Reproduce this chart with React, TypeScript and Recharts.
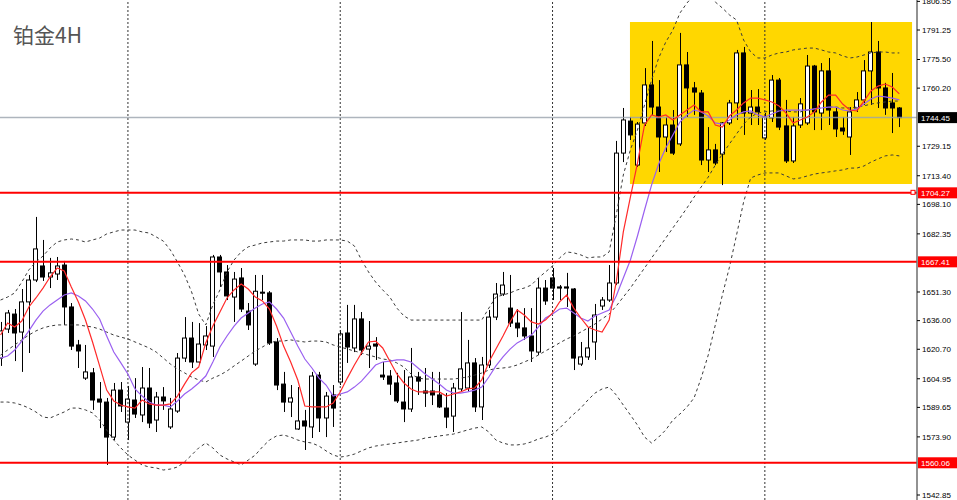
import React from 'react';
import { ComposedChart, Bar, Line, XAxis, YAxis, ReferenceLine, ReferenceArea } from 'recharts';

// ---- candle data (4H bars, oldest first) ----
const opens = [
  1616.0, 1631.5, 1639.5, 1629.9, 1646.0, 1657.7, 1665.2, 1659.3, 1660.9, 1665.7,
  1643.3, 1623.0, 1605.3, 1608.1, 1594.1, 1592.5, 1573.8, 1598.9, 1581.8, 1593.6,
  1585.6, 1600.0, 1582.9, 1595.2, 1579.2, 1587.7, 1616.0, 1626.7, 1613.9, 1623.0,
  1622.4, 1670.0, 1662.0, 1648.6, 1658.8, 1641.1, 1612.8, 1651.2, 1650.8, 1624.6,
  1602.1, 1592.5, 1578.1, 1582.4, 1579.2, 1606.9, 1584.0, 1596.3, 1603.2, 1629.4,
  1621.4, 1636.9, 1620.8, 1623.5, 1606.9, 1606.4, 1602.7, 1592.5, 1588.8, 1605.9,
  1598.4, 1598.4, 1596.3, 1589.3, 1585.0, 1599.5, 1600.0, 1613.4, 1589.9, 1612.3,
  1637.9, 1650.2, 1642.7, 1634.7, 1632.1, 1627.8, 1619.2, 1653.4, 1658.8, 1654.0,
  1654.0, 1652.9, 1612.8, 1616.6, 1624.6, 1643.8, 1647.0, 1656.1, 1725.5, 1742.6,
  1719.1, 1741.6, 1761.9, 1750.1, 1734.1, 1740.5, 1730.4, 1772.6, 1760.3, 1757.6,
  1721.8, 1727.2, 1725.0, 1741.6, 1752.3, 1779.0, 1746.9, 1750.1, 1733.6, 1744.3,
  1764.5, 1740.0, 1721.3, 1740.5, 1741.6, 1772.0, 1746.9, 1769.4, 1747.5, 1738.9,
  1734.1, 1749.6, 1753.9, 1769.4, 1779.5, 1760.3, 1752.3, 1749.6,
];
const highs = [
  1635.3, 1641.7, 1642.2, 1652.9, 1660.4, 1691.4, 1679.1, 1669.5, 1670.0, 1667.9,
  1645.4, 1625.7, 1623.0, 1610.7, 1603.2, 1594.7, 1602.7, 1603.2, 1601.1, 1605.3,
  1611.2, 1610.7, 1597.9, 1600.5, 1594.7, 1618.7, 1637.9, 1635.3, 1634.7, 1633.1,
  1671.1, 1671.1, 1665.7, 1662.0, 1664.1, 1645.4, 1660.4, 1660.4, 1651.8, 1626.7,
  1608.6, 1601.6, 1600.5, 1588.3, 1608.6, 1608.6, 1597.9, 1601.6, 1631.0, 1644.4,
  1644.4, 1640.6, 1635.8, 1627.2, 1613.9, 1609.6, 1608.1, 1609.6, 1621.4, 1608.6,
  1610.7, 1608.6, 1608.6, 1597.3, 1602.7, 1640.6, 1625.7, 1616.0, 1616.6, 1641.7,
  1656.1, 1662.0, 1660.4, 1642.2, 1642.7, 1642.7, 1658.8, 1657.7, 1664.1, 1655.0,
  1661.5, 1653.4, 1624.6, 1632.1, 1644.9, 1648.6, 1665.7, 1732.0, 1749.6, 1744.8,
  1742.1, 1770.9, 1785.4, 1764.5, 1744.8, 1748.5, 1789.7, 1779.5, 1763.5, 1759.2,
  1739.4, 1730.4, 1742.1, 1753.9, 1780.6, 1782.2, 1759.2, 1759.7, 1746.9, 1767.2,
  1765.6, 1753.9, 1744.8, 1754.9, 1777.9, 1772.6, 1773.6, 1776.3, 1750.1, 1744.8,
  1750.1, 1758.1, 1775.2, 1795.5, 1785.4, 1763.0, 1768.3, 1750.1,
];
const lows = [
  1611.8, 1629.4, 1614.4, 1608.6, 1618.7, 1656.6, 1657.2, 1653.4, 1657.7, 1633.7,
  1620.3, 1610.7, 1604.3, 1588.3, 1578.6, 1558.9, 1572.2, 1587.2, 1572.2, 1584.0,
  1581.8, 1578.6, 1576.5, 1588.3, 1578.1, 1586.7, 1613.9, 1610.7, 1612.3, 1620.3,
  1616.6, 1654.0, 1647.0, 1635.3, 1640.6, 1631.0, 1611.8, 1647.0, 1623.0, 1598.9,
  1587.2, 1584.5, 1577.6, 1566.9, 1573.3, 1576.5, 1573.8, 1579.2, 1601.6, 1613.4,
  1619.2, 1617.6, 1610.7, 1615.0, 1604.3, 1596.3, 1592.0, 1581.8, 1587.2, 1596.3,
  1589.9, 1590.9, 1589.3, 1578.6, 1576.5, 1597.9, 1597.9, 1587.2, 1582.9, 1610.7,
  1636.3, 1649.2, 1632.6, 1627.2, 1625.7, 1613.9, 1617.6, 1644.4, 1647.0, 1647.0,
  1643.3, 1609.6, 1611.8, 1615.0, 1615.0, 1641.7, 1646.0, 1655.0, 1720.7, 1732.5,
  1718.1, 1740.0, 1745.9, 1715.4, 1726.1, 1724.5, 1729.3, 1744.8, 1745.9, 1719.1,
  1715.4, 1719.1, 1708.4, 1740.5, 1743.2, 1735.2, 1740.5, 1740.5, 1732.5, 1742.1,
  1737.8, 1720.2, 1720.2, 1738.9, 1740.5, 1737.8, 1737.8, 1740.5, 1734.1, 1735.2,
  1724.5, 1747.5, 1751.2, 1751.2, 1749.6, 1745.9, 1736.2, 1739.4,
];
const closes = [
  1630.5, 1640.1, 1629.4, 1646.0, 1657.7, 1674.3, 1659.3, 1661.5, 1665.2, 1643.3,
  1622.4, 1619.8, 1608.6, 1593.6, 1592.5, 1573.8, 1598.9, 1590.4, 1594.1, 1586.1,
  1600.0, 1581.3, 1595.2, 1593.1, 1588.8, 1616.0, 1626.7, 1613.9, 1623.5, 1627.8,
  1670.0, 1662.0, 1649.2, 1658.2, 1642.2, 1633.7, 1651.7, 1650.8, 1624.1, 1601.6,
  1592.5, 1594.7, 1582.4, 1579.7, 1606.4, 1584.0, 1595.7, 1589.3, 1628.9, 1621.9,
  1636.9, 1620.3, 1622.4, 1622.4, 1605.9, 1602.1, 1593.1, 1588.8, 1605.9, 1603.7,
  1597.3, 1596.3, 1589.9, 1584.5, 1600.0, 1610.2, 1613.4, 1589.9, 1612.3, 1637.9,
  1650.2, 1655.0, 1634.7, 1632.1, 1627.8, 1619.8, 1653.4, 1646.5, 1653.4, 1653.4,
  1653.4, 1616.0, 1616.6, 1621.4, 1639.0, 1647.0, 1656.1, 1725.5, 1743.2, 1735.2,
  1741.0, 1761.9, 1750.1, 1734.1, 1740.5, 1725.5, 1772.6, 1760.3, 1758.1, 1721.8,
  1727.2, 1720.2, 1741.6, 1752.3, 1779.0, 1746.9, 1750.1, 1747.5, 1744.8, 1764.5,
  1739.4, 1721.3, 1740.0, 1751.8, 1772.0, 1747.5, 1769.4, 1748.5, 1738.4, 1737.3,
  1747.5, 1753.9, 1769.4, 1779.5, 1760.3, 1749.6, 1749.6, 1744.45,
];

// ---- indicator lines ----
const maFast = [
  1628.3, 1634.7, 1632.6, 1635.8, 1643.3, 1648.1, 1653.4, 1659.3, 1664.1, 1662.5,
  1654.0, 1646.0, 1636.3, 1624.6, 1611.8, 1598.9, 1593.1, 1590.9, 1589.9, 1589.3,
  1593.6, 1591.5, 1590.9, 1590.9, 1591.5, 1595.7, 1602.1, 1608.1, 1611.2, 1624.1,
  1633.1, 1640.6, 1648.1, 1652.4, 1655.6, 1652.9, 1648.6, 1646.5, 1642.2, 1633.1,
  1622.4, 1613.9, 1604.3, 1590.4, 1589.9, 1589.9, 1589.9, 1592.0, 1597.9, 1605.3,
  1612.3, 1618.7, 1624.6, 1625.1, 1621.4, 1614.4, 1607.5, 1602.7, 1599.5, 1597.9,
  1597.9, 1597.9, 1597.9, 1595.7, 1596.8, 1597.9, 1599.5, 1600.0, 1604.3, 1613.9,
  1620.8, 1627.8, 1635.3, 1641.7, 1639.0, 1635.3, 1634.2, 1636.3, 1640.1, 1646.0,
  1649.7, 1642.7, 1637.4, 1632.6, 1631.0, 1629.9, 1636.3, 1656.6, 1683.4, 1702.0,
  1720.2, 1740.5, 1745.9, 1744.8, 1745.9, 1743.2, 1745.9, 1748.5, 1751.2, 1747.5,
  1747.5, 1740.5, 1739.4, 1745.3, 1748.5, 1752.3, 1754.9, 1754.9, 1753.9, 1752.8,
  1750.7, 1746.9, 1741.6, 1743.2, 1744.8, 1747.5, 1752.8, 1756.5, 1756.5, 1751.7,
  1748.5, 1748.0, 1753.3, 1758.7, 1761.3, 1762.4, 1760.8, 1757.1,
];
const maSlow = [
  1616.0, 1617.1, 1620.3, 1625.1, 1630.5, 1636.3, 1641.1, 1644.4, 1647.0, 1649.7,
  1650.8, 1649.2, 1646.5, 1642.2, 1636.9, 1627.8, 1619.2, 1613.4, 1607.5, 1599.5,
  1595.7, 1592.5, 1590.9, 1590.9, 1589.9, 1593.1, 1596.8, 1599.5, 1602.7, 1606.4,
  1613.9, 1621.9, 1627.8, 1633.1, 1637.4, 1640.1, 1642.7, 1644.9, 1646.0, 1642.2,
  1637.4, 1629.9, 1622.4, 1615.5, 1610.7, 1605.3, 1601.6, 1595.7, 1596.8, 1597.9,
  1600.5, 1603.7, 1608.0, 1612.3, 1613.9, 1614.4, 1615.0, 1615.0, 1613.9, 1610.7,
  1607.5, 1604.8, 1602.1, 1598.9, 1597.3, 1597.3, 1597.9, 1598.9, 1600.5, 1605.9,
  1611.8, 1616.6, 1620.8, 1624.1, 1626.2, 1628.3, 1632.6, 1637.4, 1639.5, 1642.2,
  1642.7, 1640.1, 1637.4, 1635.8, 1638.5, 1640.1, 1641.7, 1649.2, 1658.8, 1668.4,
  1681.2, 1695.1, 1708.5, 1719.7, 1728.2, 1735.2, 1742.1, 1745.9, 1748.5, 1747.5,
  1745.3, 1741.6, 1741.0, 1743.2, 1745.9, 1747.5, 1748.0, 1745.9, 1744.8, 1746.4,
  1748.0, 1748.5, 1748.5, 1748.5, 1748.5, 1749.1, 1749.6, 1750.1, 1750.1, 1748.5,
  1748.0, 1749.1, 1751.7, 1754.4, 1756.0, 1755.5, 1754.9, 1753.9,
];
const bbUpper = [
  1647.0, 1648.6, 1650.8, 1656.6, 1663.1, 1667.3, 1670.5, 1674.8, 1678.0, 1679.1,
  1679.6, 1679.1, 1678.0, 1679.1, 1680.1, 1682.3, 1683.4, 1684.4, 1684.4, 1684.4,
  1683.4, 1682.8, 1680.7, 1678.5, 1673.7, 1667.3, 1660.4, 1651.3, 1639.5, 1633.7,
  1644.4, 1652.4, 1662.0, 1668.4, 1672.7, 1675.4, 1676.4, 1677.5, 1678.0, 1678.5,
  1678.5, 1679.1, 1679.1, 1679.1, 1678.5, 1678.5, 1679.1, 1679.1, 1679.1, 1678.5,
  1675.9, 1668.4, 1662.0, 1656.6, 1652.4, 1648.6, 1642.7, 1638.5, 1636.3, 1636.3,
  1636.3, 1636.3, 1636.3, 1636.3, 1636.3, 1636.3, 1636.3, 1636.3, 1636.3, 1642.7,
  1648.6, 1649.7, 1650.8, 1652.4, 1653.4, 1655.0, 1658.8, 1662.0, 1665.2, 1669.5,
  1672.7, 1672.2, 1671.1, 1669.5, 1670.0, 1670.0, 1672.7, 1692.4, 1713.8, 1727.2,
  1737.8, 1751.2, 1764.5, 1776.3, 1784.8, 1791.2, 1800.3, 1805.7, 1810.0, 1811.6,
  1810.0, 1806.2, 1803.0, 1799.3, 1796.6, 1785.9, 1779.5, 1776.3, 1776.3, 1777.9,
  1779.0, 1779.5, 1780.6, 1781.1, 1781.6, 1781.6, 1780.6, 1779.5, 1779.0, 1777.4,
  1776.3, 1776.8, 1777.9, 1779.0, 1779.5, 1779.5, 1779.0, 1779.0,
];
const bbMiddle = [
  1617.6, 1620.3, 1623.0, 1625.7, 1628.3, 1630.5, 1632.1, 1633.1, 1633.7, 1633.7,
  1633.7, 1633.7, 1633.1, 1632.6, 1631.5, 1629.9, 1628.3, 1627.2, 1626.2, 1624.6,
  1623.0, 1621.4, 1619.2, 1616.0, 1612.8, 1610.2, 1608.1, 1605.9, 1604.3, 1603.2,
  1605.3, 1606.9, 1609.1, 1611.8, 1614.4, 1617.1, 1619.8, 1621.9, 1624.1, 1625.1,
  1625.1, 1625.7, 1625.1, 1624.6, 1625.1, 1625.1, 1624.6, 1623.0, 1621.9, 1620.8,
  1619.8, 1618.7, 1617.6, 1616.6, 1615.5, 1615.0, 1613.4, 1611.2, 1607.5, 1605.3,
  1604.8, 1604.8, 1604.8, 1604.8, 1604.8, 1605.3, 1605.9, 1606.9, 1608.0, 1609.6,
  1610.4, 1610.7, 1611.2, 1612.3, 1613.9, 1615.5, 1617.6, 1619.8, 1621.9, 1624.1,
  1626.2, 1627.8, 1629.9, 1632.1, 1634.2, 1636.9, 1639.5, 1643.8, 1648.6, 1653.4,
  1658.8, 1664.1, 1669.5, 1674.8, 1680.1, 1685.5, 1690.8, 1696.2, 1702.0, 1707.4,
  1712.7, 1719.1, 1725.0, 1730.4, 1735.7, 1741.0, 1744.8, 1746.9, 1747.5, 1748.0,
  1748.5, 1748.0, 1747.5, 1747.5, 1748.5, 1749.1, 1749.6, 1750.1, 1750.1, 1749.6,
  1749.6, 1750.1, 1750.7, 1751.7, 1752.3, 1752.8, 1753.3, 1753.3,
];
const bbLower = [
  1592.5, 1592.5, 1592.0, 1590.9, 1589.3, 1587.2, 1584.5, 1584.0, 1585.6, 1587.2,
  1589.3, 1589.3, 1588.3, 1586.7, 1582.9, 1577.6, 1572.2, 1568.0, 1564.2, 1561.5,
  1558.9, 1557.8, 1557.3, 1556.2, 1556.7, 1557.8, 1560.5, 1564.2, 1568.0, 1570.6,
  1568.0, 1564.2, 1562.1, 1560.5, 1558.9, 1561.5, 1564.2, 1568.5, 1572.2, 1574.4,
  1574.9, 1573.8, 1572.2, 1571.2, 1570.6, 1569.0, 1566.4, 1564.2, 1563.1, 1563.7,
  1564.7, 1566.4, 1568.0, 1569.0, 1569.6, 1570.1, 1570.6, 1571.2, 1571.7, 1572.2,
  1573.3, 1573.8, 1574.4, 1574.9, 1575.4, 1576.5, 1577.6, 1578.6, 1579.2, 1576.5,
  1572.2, 1570.6, 1569.6, 1569.6, 1570.1, 1571.2, 1572.8, 1573.8, 1575.4, 1578.6,
  1582.4, 1586.1, 1589.3, 1593.6, 1597.3, 1599.5, 1600.5, 1596.3, 1590.9, 1585.6,
  1580.2, 1573.8, 1570.6, 1573.8, 1577.6, 1582.9, 1586.1, 1589.9, 1594.7, 1605.3,
  1617.6, 1633.7, 1649.7, 1664.6, 1681.7, 1699.4, 1712.2, 1713.8, 1714.9, 1714.9,
  1714.9, 1713.3, 1711.7, 1712.2, 1713.3, 1714.3, 1714.9, 1715.4, 1716.0, 1716.5,
  1717.5, 1717.5, 1718.6, 1720.7, 1722.4, 1724.0, 1724.5, 1724.0,
];

// ---- axis / annotation values ----
const slotCount = 130; // 128 bars + 2 empty slots of chart shift
const yTicks = [1806.55, 1791.25, 1775.5, 1760.2, 1729.15, 1713.4, 1698.1, 1682.35, 1651.3, 1636.0, 1620.7, 1604.95, 1589.65, 1573.9, 1542.85];
const yDomain = [1540.18, 1807.28];
const levelPrices = [1704.27, 1667.41, 1560.06];
const lastPrice = 1744.45;
const gridSlots = [18, 48, 78, 108];
const boxFromSlot = 88.94;
const boxToSlot = 128.8;
const boxLow = 1709.0;
const boxHigh = 1795.5;
const title = '铂金4H';

const rows = Array.from({ length: slotCount }, (_, i) => ({
  idx: i,
  open: opens[i],
  high: highs[i],
  low: lows[i],
  close: closes[i],
  maFast: maFast[i],
  maSlow: maSlow[i],
  bbUpper: bbUpper[i],
  bbMiddle: bbMiddle[i],
  bbLower: bbLower[i],
}));

const AXIS_FONT = "'Liberation Sans', Arial, sans-serif";

function Candle(props: any) {
  const { x, y, width, height, payload } = props;
  if (!payload || payload.high == null) return null;
  const top = Math.min(y, y + height);
  const h = Math.abs(height);
  const { open, close, high, low } = payload;
  const range = high - low;
  const py = (v: number) => (range === 0 ? top : top + ((high - v) / range) * h);
  const cx = Math.round(x + width / 2) + 0.5;
  const yO = py(open);
  const yC = py(close);
  const bull = close >= open;
  const bodyTop = Math.min(yO, yC);
  const bodyH = Math.max(Math.abs(yO - yC), 1);
  const bx = Math.round(x) + 0.5;
  return (
    <g>
      <line x1={cx} x2={cx} y1={top} y2={top + h} stroke="#000" strokeWidth={1} />
      <rect x={bx} y={bodyTop} width={width - 1} height={bodyH} fill={bull ? '#fff' : '#000'} stroke="#000" strokeWidth={1} />
    </g>
  );
}

function PriceTag(props: any) {
  const { viewBox, text, bg, marker } = props;
  if (!viewBox) return null;
  const right = viewBox.x + viewBox.width;
  const y = viewBox.y;
  return (
    <g>
      {marker ? <rect x={right - 6} y={y - 2.5} width={4} height={4} fill="#fff" stroke="#ff0000" strokeWidth={1} /> : null}
      <rect x={right + 1} y={y - 5.5} width={40} height={11} fill={bg} />
      <text x={right + 4} y={y + 3} fill="#fff" fontSize={8} fontFamily={AXIS_FONT}>
        {text}
      </text>
    </g>
  );
}

export default function App() {
  return (
    <div style={{ position: 'absolute', left: 0, top: 0, width: 957, height: 500, background: '#fff', overflow: 'hidden' }}>
      <ComposedChart width={957} height={500} data={rows} margin={{ top: 0, right: 0, bottom: 0, left: -3 }}>
        <XAxis dataKey="idx" hide />
        <XAxis xAxisId="n" dataKey="idx" type="number" domain={[-0.5, slotCount - 0.5]} hide allowDataOverflow />
        <YAxis
          orientation="right"
          width={40}
          domain={yDomain}
          allowDataOverflow
          ticks={yTicks}
          interval={0}
          tickFormatter={(v: number) => v.toFixed(2)}
          tick={{ fontSize: 8, fill: '#000', fontFamily: AXIS_FONT }}
          tickSize={3}
          tickMargin={2}
          tickLine={{ stroke: '#000' }}
          axisLine={{ stroke: '#6e6e6e', strokeWidth: 1.5 }}
        />
        <ReferenceArea
          xAxisId="n"
          x1={boxFromSlot}
          x2={boxToSlot}
          y1={boxLow}
          y2={boxHigh}
          fill="#FFD700"
          fillOpacity={1}
          stroke="none"
          ifOverflow="visible"
        />
        {gridSlots.map((s) => (
          <ReferenceLine key={'g' + s} xAxisId="n" x={s} stroke="#333" strokeDasharray="2 2" strokeWidth={1} />
        ))}
        <ReferenceLine
          y={lastPrice}
          stroke="#9aa3ad"
          strokeOpacity={0.8}
          strokeWidth={1.5}
          label={<PriceTag text={lastPrice.toFixed(2)} bg="#000" />}
        />
        <Bar
          dataKey={(d: any) => (d.high == null ? null : [d.low, d.high])}
          shape={<Candle />}
          barSize={5}
          isAnimationActive={false}
        />
        <Line dataKey="bbUpper" stroke="#3a3a3a" strokeDasharray="3 3" strokeWidth={1} dot={false} activeDot={false} isAnimationActive={false} />
        <Line dataKey="bbMiddle" stroke="#3a3a3a" strokeDasharray="3 3" strokeWidth={1} dot={false} activeDot={false} isAnimationActive={false} />
        <Line dataKey="bbLower" stroke="#3a3a3a" strokeDasharray="3 3" strokeWidth={1} dot={false} activeDot={false} isAnimationActive={false} />
        <Line dataKey="maSlow" stroke="#9a60f0" strokeWidth={1.2} dot={false} activeDot={false} isAnimationActive={false} />
        <Line dataKey="maFast" stroke="#ff2a2a" strokeWidth={1.2} dot={false} activeDot={false} isAnimationActive={false} />
        {levelPrices.map((p, k) => (
          <ReferenceLine
            key={'l' + p}
            y={p}
            stroke="#ff0000"
            strokeWidth={2}
            label={<PriceTag text={p.toFixed(2)} bg="#ff0000" marker={k === 0} />}
          />
        ))}
      </ComposedChart>
      <svg width={957} height={500} style={{ position: 'absolute', left: 0, top: 0, pointerEvents: 'none' }}>
        <text x={13} y={43} fontSize={21} fill="#555" fontFamily="'Noto Sans CJK SC', 'Noto Sans', sans-serif">
          {title}
        </text>
      </svg>
    </div>
  );
}
